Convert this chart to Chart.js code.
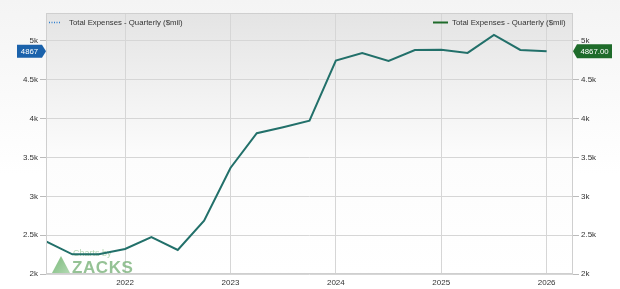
<!DOCTYPE html>
<html><head><meta charset="utf-8">
<script src="https://cdn.jsdelivr.net/npm/chart.js@4"></script>
<style>
html,body{margin:0;padding:0;width:620px;height:289px;overflow:hidden;background:linear-gradient(#f4f4f4,#ffffff 60%);}
canvas{display:block;}
</style></head><body>
<canvas id="c" width="620" height="289"></canvas>
<script>
const periods = [2021.25,2021.5,2021.75,2022,2022.25,2022.5,2022.75,2023,2023.25,2023.5,2023.75,2024,2024.25,2024.5,2024.75,2025,2025.25,2025.5,2025.75,2026];
const expenses = [2420,2253,2255,2322,2476,2309,2686,3365,3812,3890,3974,4747,4846,4743,4884,4888,4846,5077,4884,4867];
const yearTicks = [2022,2023,2024,2025,2026];
const yTicks = [2000,2500,3000,3500,4000,4500,5000];
const seriesName = 'Total Expenses - Quarterly ($mil)';
const lastValue = expenses[expenses.length-1];

const FONT = '7.8px "Liberation Sans", Arial, sans-serif';
const pts = periods.map((p,i)=>({x:p,y:expenses[i]}));

const bgPlugin = {
  id:'bg',
  beforeDraw(chart){
    const {ctx, chartArea:a} = chart;
    const g = ctx.createLinearGradient(0,a.top,0,a.bottom);
    g.addColorStop(0,'#e4e4e4');
    g.addColorStop(0.55,'#fcfcfc');
    g.addColorStop(1,'#ffffff');
    ctx.save();
    ctx.fillStyle = g;
    ctx.fillRect(a.left,a.top,a.right-a.left,a.bottom-a.top);
    ctx.restore();
  },
  beforeDatasetsDraw(chart){
    const {ctx} = chart;
    ctx.save();
    ctx.globalAlpha = 0.8;
    const tg = ctx.createLinearGradient(52,257,70,273);
    tg.addColorStop(0,'#5aa85a'); tg.addColorStop(1,'#9fd09f');
    ctx.fillStyle = tg;
    ctx.beginPath(); ctx.moveTo(61,256); ctx.lineTo(70,273); ctx.lineTo(52,273); ctx.closePath(); ctx.fill();
    ctx.fillStyle = '#7ab37a';
    ctx.font = 'bold 17px "Liberation Sans", Arial, sans-serif';
    ctx.letterSpacing = '0.6px';
    ctx.textBaseline = 'alphabetic';
    ctx.fillText('ZACKS',72,273);
    ctx.letterSpacing = '0px';
    ctx.fillStyle = '#a0cca0';
    ctx.font = '9px "Liberation Sans", Arial, sans-serif';
    ctx.fillText('Charts by',73,256);
    ctx.restore();
  },
  afterDraw(chart){
    const {ctx, chartArea:a} = chart;
    ctx.save();
    ctx.strokeStyle = '#cfcfcf'; ctx.lineWidth = 1;
    ctx.strokeRect(a.left+0.5,a.top+0.5,a.right-a.left-1,a.bottom-a.top-1);
    ctx.font = FONT; ctx.textBaseline='middle';
    ctx.fillStyle='#333';
    ctx.strokeStyle='#2f7fd0'; ctx.lineWidth=1.5; ctx.setLineDash([1,1.5]);
    ctx.beginPath(); ctx.moveTo(49,22.5); ctx.lineTo(61,22.5); ctx.stroke();
    ctx.setLineDash([]);
    ctx.fillText(seriesName,69,22.5);
    ctx.strokeStyle='#1e6b2a'; ctx.lineWidth=2;
    ctx.beginPath(); ctx.moveTo(433,22.5); ctx.lineTo(448,22.5); ctx.stroke();
    ctx.fillText(seriesName,452,22.5);
    const yl = chart.scales.y.getPixelForValue(lastValue);
    const yr = chart.scales.y2.getPixelForValue(lastValue);
    ctx.fillStyle='#1b62ab';
    ctx.beginPath(); ctx.moveTo(17,yl-6.5); ctx.lineTo(42,yl-6.5); ctx.lineTo(46,yl); ctx.lineTo(42,yl+6.5); ctx.lineTo(17,yl+6.5); ctx.closePath(); ctx.fill();
    ctx.fillStyle='#1e6b2a';
    ctx.beginPath(); ctx.moveTo(573,yr); ctx.lineTo(577,yr-7); ctx.lineTo(612,yr-7); ctx.lineTo(612,yr+7); ctx.lineTo(577,yr+7); ctx.closePath(); ctx.fill();
    ctx.fillStyle='#fff'; ctx.textAlign='center';
    ctx.fillText(String(lastValue),29.5,yl+0.5);
    ctx.fillText(lastValue.toFixed(2),594.5,yr+0.5);
    ctx.restore();
  }
};

const kfmt = v => (v/1000)+'k';
const tickFont = {family:'"Liberation Sans", Arial, sans-serif',size:8};
new Chart(document.getElementById('c'),{
  type:'line',
  data:{datasets:[
    {label:seriesName, data:pts, yAxisID:'y', borderColor:'rgba(47,127,208,0)', borderWidth:0, pointRadius:0, order:2},
    {label:seriesName, data:pts, yAxisID:'y2', borderColor:'#22706a', borderWidth:2, pointRadius:0, tension:0, order:1}
  ]},
  options:{
    responsive:false, animation:false, devicePixelRatio:1,
    layout:{padding:{top:13,left:0,right:0,bottom:0}},
    plugins:{legend:{display:false},tooltip:{enabled:false}},
    scales:{
      x:{type:'linear', min:2021.25, max:2026.25,
        afterBuildTicks(s){ s.ticks = yearTicks.map(v=>({value:v})); },
        afterFit(s){ s.height = 15; },
        border:{display:false},
        grid:{color:'#d6d6d6', tickLength:0, drawTicks:false},
        ticks:{font:tickFont, color:'#333', padding:4, maxRotation:0, callback:v=>String(v)}
      },
      y:{position:'left', min:2000, max:5360,
        afterBuildTicks(s){ s.ticks = yTicks.map(v=>({value:v})); },
        afterFit(s){ s.width = 46; },
        border:{display:false},
        grid:{color:'#d6d6d6', tickLength:6, tickColor:'#bbb'},
        ticks:{font:tickFont, color:'#333', padding:2, callback:kfmt}
      },
      y2:{position:'right', min:2000, max:5360,
        afterBuildTicks(s){ s.ticks = yTicks.map(v=>({value:v})); },
        afterFit(s){ s.width = 47; },
        border:{display:false},
        grid:{drawOnChartArea:false, tickLength:6, color:'#bbb'},
        ticks:{font:tickFont, color:'#333', padding:2, callback:kfmt}
      }
    }
  },
  plugins:[bgPlugin]
});
</script>
</body></html>
